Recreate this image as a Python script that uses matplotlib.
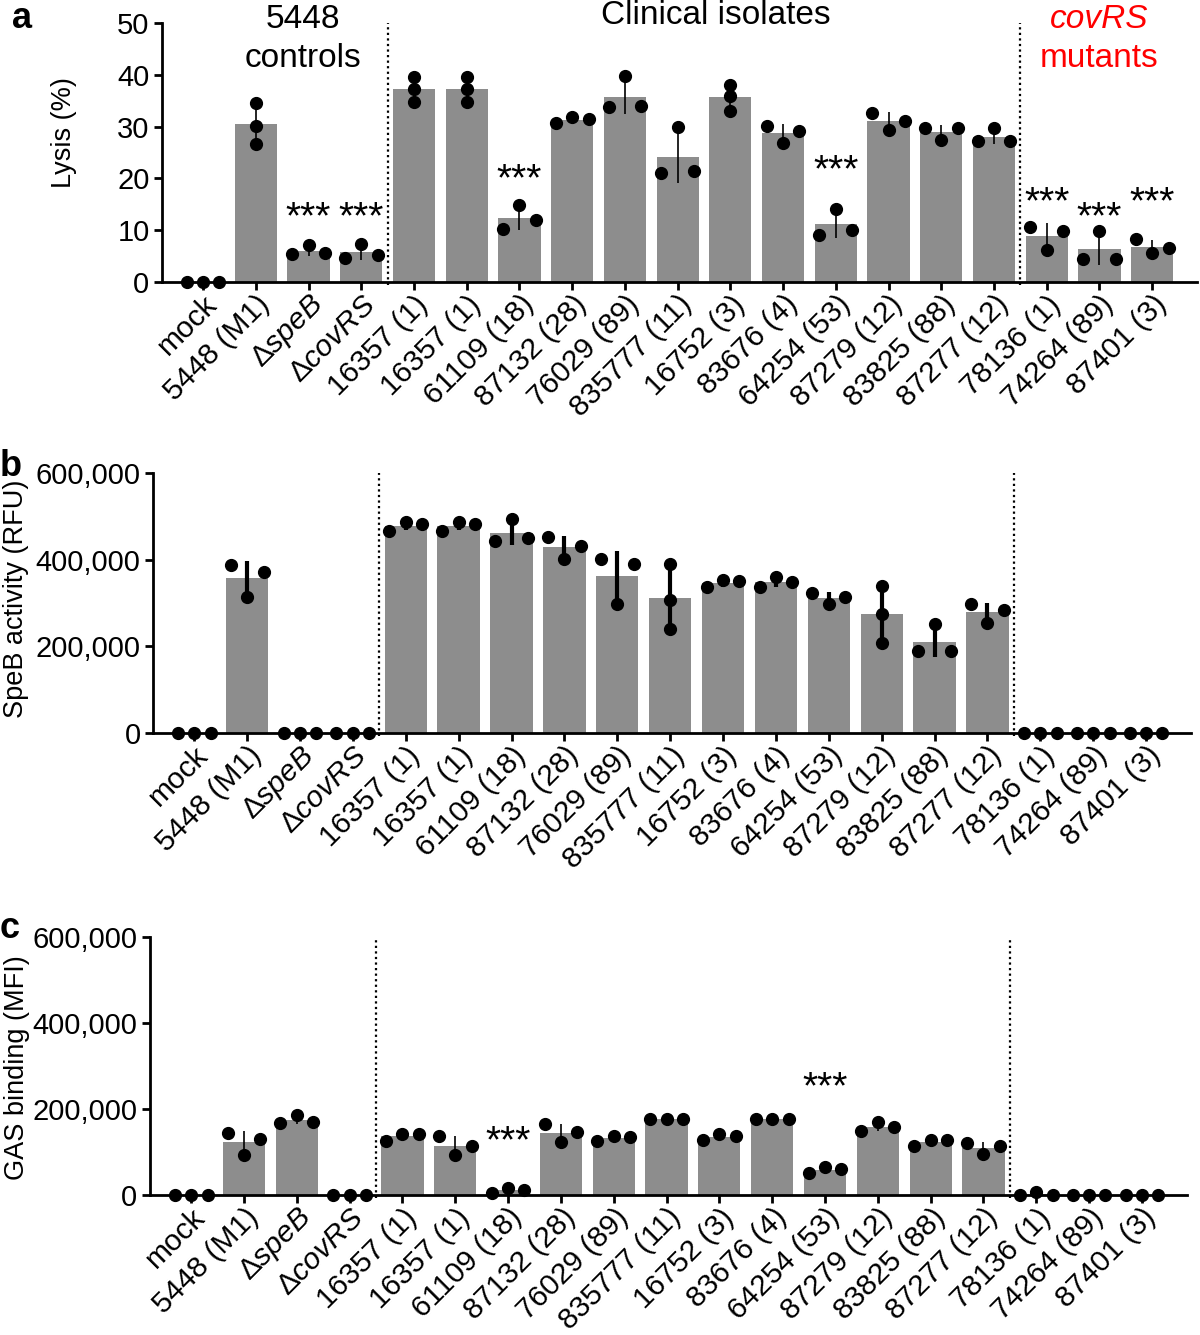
import numpy as np
import matplotlib
matplotlib.use("Agg")
import matplotlib.pyplot as plt
from matplotlib.ticker import FuncFormatter
from matplotlib.transforms import ScaledTranslation

plt.rcParams['font.family'] = ['Liberation Sans', 'DejaVu Sans']
plt.rcParams['mathtext.fontset'] = 'custom'
plt.rcParams['mathtext.rm'] = 'Liberation Sans'
plt.rcParams['mathtext.it'] = 'Liberation Sans:italic'

# strain names (M type in brackets)
strains = ['mock', '5448 (M1)', 'Δ$\\mathit{speB}$', 'Δ$\\mathit{covRS}$',
           '16357 (1)', '16357 (1)', '61109 (18)', '87132 (28)', '76029 (89)',
           '835777 (11)', '16752 (3)', '83676 (4)', '64254 (53)', '87279 (12)',
           '83825 (88)', '87277 (12)', '78136 (1)', '74264 (89)', '87401 (3)']

# replicates: left / centre / right dot
lysis_r1 = [0, 34.5, 5.3, 4.6, 39.6, 39.6, 10.2, 30.7, 33.7, 21.1, 38.0, 30.2, 9.1, 32.7, 29.7, 27.2, 10.7, 4.5, 8.3]
lysis_r2 = [0, 30.1, 7.1, 7.4, 37.2, 37.2, 14.9, 31.9, 39.7, 30.0, 35.9, 26.8, 14.1, 29.3, 27.4, 29.7, 6.1, 9.9, 5.5]
lysis_r3 = [0, 26.6, 5.6, 5.2, 34.8, 34.8, 12.0, 31.4, 34.0, 21.4, 33.0, 29.1, 10.1, 31.1, 29.7, 27.2, 9.8, 4.5, 6.5]

speb_r1 = [0, 388e3, 0, 0, 467e3, 467e3, 443e3, 452e3, 402e3, 390e3, 336e3, 336e3, 324e3, 339e3, 190e3, 297e3, 0, 0, 0]
speb_r2 = [0, 315e3, 0, 0, 486e3, 486e3, 494e3, 401e3, 298e3, 307e3, 352e3, 359e3, 297e3, 275e3, 251e3, 254e3, 0, 0, 0]
speb_r3 = [0, 371e3, 0, 0, 483e3, 483e3, 450e3, 432e3, 389e3, 240e3, 350e3, 348e3, 315e3, 208e3, 190e3, 284e3, 0, 0, 0]

gas_r1 = [0, 144e3, 168e3, 0, 126e3, 137e3, 5e3, 164e3, 126e3, 177e3, 128e3, 177e3, 51e3, 148e3, 114e3, 121e3, 0, 0, 0]
gas_r2 = [0, 93e3, 185e3, 0, 141e3, 93e3, 16e3, 124e3, 136e3, 177e3, 141e3, 177e3, 65e3, 170e3, 128e3, 95e3, 7e3, 0, 0]
gas_r3 = [0, 130e3, 170e3, 0, 141e3, 114e3, 12e3, 147e3, 135e3, 177e3, 137e3, 177e3, 61e3, 159e3, 128e3, 114e3, 0, 0, 0]

# significance marks: (bar index, height of the ***)
stars_lysis = [(2, 13.9), (3, 13.9), (6, 21.2), (12, 23.0), (16, 16.8), (17, 13.9), (18, 16.8)]
stars_speb = []
stars_gas = [(6, 141e3), (12, 268e3)]

GREY = '#8d8d8d'


def draw_panel(ax, reps, ymax, yticks, ylabel, stars, err_lw, label_pos):
    data = np.array(reps, dtype=float).T   # n_strains x 3
    x = np.arange(len(strains))
    means = data.mean(axis=1)
    sds = data.std(axis=1, ddof=1)

    ax.bar(x, means, width=0.8, color=GREY, zorder=1)
    ax.errorbar(x, means, yerr=sds, fmt='none', ecolor='black',
                elinewidth=err_lw, capsize=0, zorder=2, clip_on=False)

    # spread dots sideways only when they would overlap
    thr = 0.04 * ymax
    for i in range(len(strains)):
        vals = data[i]
        close = any(abs(vals[a] - vals[b]) < thr
                    for a in range(3) for b in range(a + 1, 3))
        offs = np.array([-0.31, 0, 0.31]) if close else np.zeros(3)
        ax.plot(x[i] + offs, vals, 'o', color='black', ms=8.5,
                zorder=3, clip_on=False)

    for idx, h in stars:
        ax.annotate('***', (idx, h), xytext=(0, -6), textcoords='offset points',
                    ha='center', va='center', fontsize=28)

    for xv in (3.5, 15.5):
        ax.plot([xv, xv], [-0.01 * ymax, ymax], ls=(0, (1, 1.5)),
                color='black', lw=1.6, clip_on=False, zorder=4)

    ax.set_xlim(-0.78, len(strains) - 1 + 0.85)
    ax.set_ylim(0, ymax)
    ax.set_yticks(yticks)
    if ymax > 1000:
        ax.yaxis.set_major_formatter(FuncFormatter(lambda v, p: '{:,.0f}'.format(v)))
    ax.set_xticks(x)
    ax.set_xticklabels(strains, rotation=45, ha='right', va='top',
                       rotation_mode='anchor', fontsize=21.5)
    shift = ScaledTranslation(8 / 72, 0, ax.figure.dpi_scale_trans)
    for lab in ax.get_xticklabels():
        lab.set_transform(lab.get_transform() + shift)
    ax.tick_params(axis='both', direction='out', length=6, width=2)
    ax.tick_params(axis='x', pad=0)
    ax.tick_params(axis='y', pad=3, labelsize=21)
    for s in ('top', 'right'):
        ax.spines[s].set_visible(False)
    for s in ('left', 'bottom'):
        ax.spines[s].set_linewidth(2)
    ax.set_ylabel(ylabel, fontsize=19.5)
    ax.yaxis.set_label_coords(*label_pos)


fig = plt.figure(figsize=(12, 13.35), dpi=100)

ax_a = fig.add_axes([0.135, 0.7888, 0.8625, 0.194])
ax_b = fig.add_axes([0.1275, 0.4509, 0.865, 0.1948])
ax_c = fig.add_axes([0.125, 0.1049, 0.864, 0.1933])

draw_panel(ax_a, [lysis_r1, lysis_r2, lysis_r3], 50, [0, 10, 20, 30, 40, 50],
           'Lysis (%)', stars_lysis, 1.2, (-0.082, 0.575))
draw_panel(ax_b, [speb_r1, speb_r2, speb_r3], 600e3, [0, 200e3, 400e3, 600e3],
           'SpeB activity (RFU)', stars_speb, 3.0, (-0.119, 0.515))
draw_panel(ax_c, [gas_r1, gas_r2, gas_r3], 600e3, [0, 200e3, 400e3, 600e3],
           'GAS binding (MFI)', stars_gas, 1.2, (-0.116, 0.495))

# group headers on panel a
ax_a.text(1.9, 50.6, '5448', ha='center', va='center', fontsize=24, clip_on=False)
ax_a.text(1.9, 43.2, 'controls', ha='center', va='center', fontsize=24, clip_on=False)
ax_a.text(9.72, 51.5, 'Clinical isolates', ha='center', va='center', fontsize=24, clip_on=False)
ax_a.text(17.0, 50.6, 'covRS', ha='center', va='center', fontsize=24,
          color='red', style='italic', clip_on=False)
ax_a.text(17.0, 43.2, 'mutants', ha='center', va='center', fontsize=24,
          color='red', clip_on=False)

fig.text(0.010, 0.979, 'a', fontsize=26, fontweight='bold', va='baseline')
fig.text(0.000, 0.6435, 'b', fontsize=26, fontweight='bold', va='baseline')
fig.text(0.000, 0.2975, 'c', fontsize=26, fontweight='bold', va='baseline')

fig.savefig('out.png', dpi=100)
